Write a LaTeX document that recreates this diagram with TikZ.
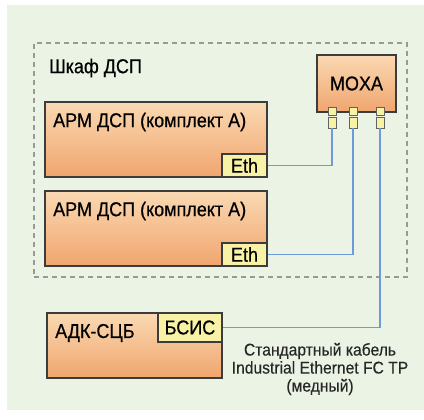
\documentclass[tikz,border=0pt]{standalone}
\usepackage{fontspec}
\setmainfont{Liberation Sans}
\newfontfamily\narrowfont[FakeStretch=0.9, FakeBold=0.6]{Liberation Sans}
\newfontfamily\smallfont[FakeStretch=0.92, FakeBold=0.3]{Liberation Sans}
\usetikzlibrary{positioning}

\definecolor{bggreen}{HTML}{EAF3E4}
\definecolor{boxtop}{HTML}{FAD9B2}
\definecolor{boxbottom}{HTML}{F0A56E}
\definecolor{portyellow}{HTML}{F8F2A6}
\definecolor{wireblue}{HTML}{6C9BDA}
\definecolor{edgegray}{HTML}{3C3C3C}

\tikzset{
	unit/.style={draw=edgegray, line width=1.6pt, top color=boxtop, bottom color=boxbottom, inner sep=0pt},
	portbox/.style={draw=edgegray, line width=1.3pt, fill=portyellow, inner sep=0pt,
		font=\narrowfont\fontsize{20}{20}\selectfont},
	jack/.style={draw=edgegray!80, line width=0.8pt, fill=portyellow, inner sep=0pt, minimum width=8pt},
	title/.style={font=\narrowfont\fontsize{20}{20}\selectfont, inner sep=0pt, anchor=west},
	wire/.style={draw=wireblue, line width=1.9pt},
	frame/.style={draw=gray!80, dashed, dash pattern=on 5pt off 4pt, line width=1.3pt, inner sep=0pt}
}

\begin{document}
\begin{tikzpicture}[x=1pt, y=-1pt]

	\useasboundingbox (0, 0) rectangle (424, 420);
	\fill[bggreen] (7, 5) rectangle (424, 410);

	% cabinet
	\node (cabinet) [frame, minimum width=373pt, minimum height=234pt] at (220.5, 160) {};
	\node (cabinetname) [title] at (49, 68) {Шкаф ДСП};

	% workstations
	\node (arm1) [unit, minimum width=222pt, minimum height=75pt] at (156, 139.5) {};
	\node (arm1name) [title] at (53, 122) {АРМ ДСП (комплект А)};
	\node (eth1) [portbox, minimum width=45pt, minimum height=23pt] at (244.5, 165.5) {Eth};

	\node (arm2) [unit, minimum width=222pt, minimum height=75pt] at (156, 228.5) {};
	\node (arm2name) [title] at (53, 211) {АРМ ДСП (комплект А)};
	\node (eth2) [portbox, minimum width=45pt, minimum height=23pt] at (244.5, 254.5) {Eth};

	% switch
	\node (moxa) [unit, minimum width=79pt, minimum height=57pt, font=\narrowfont\fontsize{20}{20}\selectfont] at (356.5, 83.5) {MOXA};
	\foreach \name/\x in {p1/332, p2/353, p3/380} {
		\node (\name a) [jack, minimum height=8pt] at (\x, 111) {};
		\node (\name b) [jack, minimum height=11pt] at (\x, 122.5) {};
	}

	% ADK
	\node (adk) [unit, minimum width=175pt, minimum height=65pt] at (134.5, 345.5) {};
	\node (adkname) [title] at (55, 333) {АДК-СЦБ};
	\node (bsis) [portbox, minimum width=64pt, minimum height=29pt] at (190, 327.5) {БСИС};

	\path[wire]
	(eth1.east) -| (p1b.south)
	(eth2.east) -| (p2b.south)
	(bsis.east) -| (p3b.south);

	\node (cable) [align=center, inner sep=0pt, text=black!85,
		font=\smallfont\fontsize{17}{18}\selectfont] at (320, 369)
		{Стандартный кабель\\Industrial Ethernet FC TP\\(медный)};

\end{tikzpicture}
\end{document}
